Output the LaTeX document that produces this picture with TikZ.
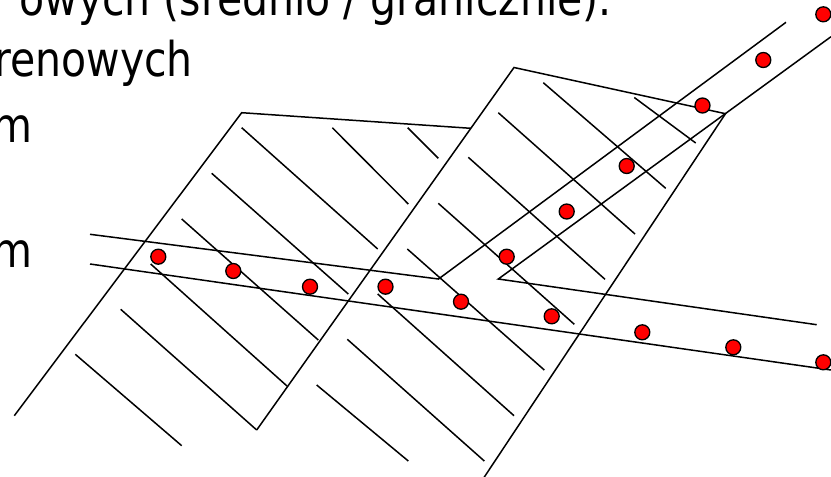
\documentclass[tikz,border=0pt]{standalone}
\usepackage{fontspec}
\setmainfont{DejaVu Sans}
\newcommand{\tallText}[1]{\scalebox{1}[1.17]{#1}}
\begin{document}
\begin{tikzpicture}[x=1pt,y=-1pt,
  stroke/.style={line width=1.5pt, black},
  hatch/.style={line width=1.5pt, black},
  dot/.style={circle, fill=red, draw=black, line width=1.3pt,
              minimum size=15pt, inner sep=0pt},
  txt/.style={font=\fontsize{41}{49}\selectfont, inner sep=0pt, anchor=base east}]
\useasboundingbox (0,0) rectangle (831,477);
\clip (0,0) rectangle (831,477);

% text lines (continuations of the slide text)
\node[txt] (t1) at (612,15.5) {\tallText{owych (średnio / granicznie).}};
\node[txt] (t2) at (193,76)   {\tallText{renowych}};
\node[txt] (t3) at (33,142)   {\tallText{m}};
\node[txt] (t4) at (33,267)   {\tallText{m}};

% block outlines
\coordinate (A0) at (14.3,415.7);
\coordinate (A1) at (241.7,112.7);
\coordinate (A2) at (470.8,128.3);
\coordinate (F1) at (514,67.5);
\coordinate (F2) at (256.7,430);
\coordinate (B2) at (725.5,113.7);
\coordinate (B3) at (484,477.5);
\draw[stroke] (A0) -- (A1) -- (A2);
\draw[stroke] (F2) -- (F1) -- (B2) -- (B3);

% hatching, left block
\draw[hatch] (241.7,127.7) -- (377.7,249);
\draw[hatch] (332.3,127.7) -- (408.3,204);
\draw[hatch] (407.7,127.7) -- (438.3,158.3);
\draw[hatch] (211.7,173.3) -- (348.3,294);
\draw[hatch] (181.7,219) -- (318.3,340);
\draw[hatch] (150.7,264) -- (287,386);
\draw[hatch] (120.7,309.3) -- (F2);
\draw[hatch] (75.3,354.3) -- (181.7,445.7);

% hatching, right block
\draw[hatch] (543.3,82.7) -- (665.7,188.3);
\draw[hatch] (634.3,97.5) -- (695.7,143);
\draw[hatch] (498.3,112.7) -- (635,234);
\draw[hatch] (468.3,157.3) -- (605,279.3);
\draw[hatch] (438.3,203.3) -- (574.3,324.3);
\draw[hatch] (407.3,249) -- (544.3,370);
\draw[hatch] (377.7,294) -- (514,415.7);
\draw[hatch] (347.3,339.3) -- (484.3,461);
\draw[hatch] (316.7,385) -- (408.3,461);

% the displaced layer
\coordinate (L1) at (90,234.3);
\coordinate (L2) at (438.5,279);
\coordinate (L3) at (786,22.3);
\coordinate (L4) at (831,36.7);
\coordinate (L5) at (498.3,279);
\coordinate (L6) at (816.7,324.7);
\coordinate (L7) at (90,264);
\coordinate (L8) at (831,370);
\draw[stroke] (L1) -- (L2) -- (L3);
\draw[stroke] (L4) -- (L5) -- (L6);
\draw[stroke] (L7) -- (L8);

% marker points along the layer
\node[dot] (p1)  at (158.3,256.7) {};
\node[dot] (p2)  at (233.3,271) {};
\node[dot] (p3)  at (310,286.7) {};
\node[dot] (p4)  at (385.5,286.7) {};
\node[dot] (p5)  at (461,301.7) {};
\node[dot] (p6)  at (551.7,316.3) {};
\node[dot] (p7)  at (642.3,332.3) {};
\node[dot] (p8)  at (733.3,347.3) {};
\node[dot] (p9)  at (823.3,362.3) {};
\node[dot] (q1)  at (506.7,256.7) {};
\node[dot] (q2)  at (566.7,211.5) {};
\node[dot] (q3)  at (626.7,166) {};
\node[dot] (q4)  at (702.5,105.5) {};
\node[dot] (q5)  at (763.3,60) {};
\node[dot] (q6)  at (823.3,14.3) {};
\end{tikzpicture}
\end{document}
